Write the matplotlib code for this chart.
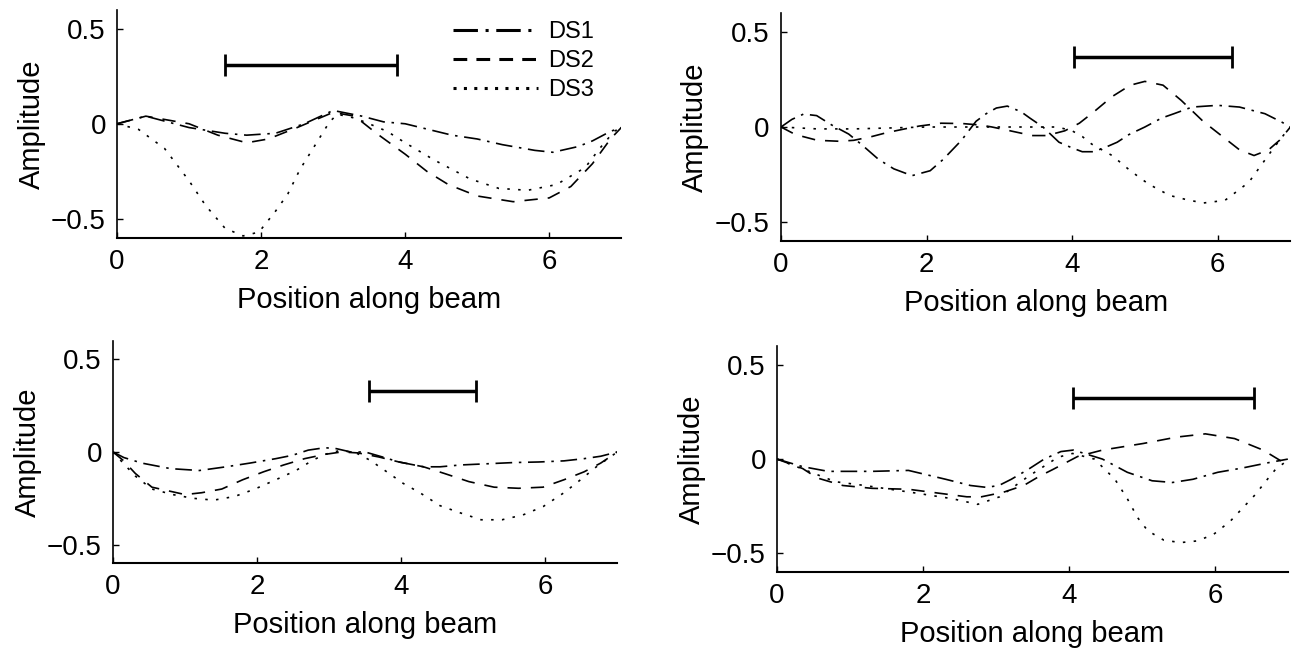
import numpy as np
import matplotlib
matplotlib.use("Agg")
import matplotlib.pyplot as plt

plt.rcParams['font.family'] = ['Liberation Sans', 'DejaVu Sans']

labels = ["DS1", "DS2", "DS3"]

# top left panel
tl_x1 = [0, 0.4, 1.0, 1.5, 1.8, 2.2, 2.6, 3.0, 3.4, 3.7, 4.0, 4.65, 5.0, 5.35, 5.8, 6.05, 6.4, 6.6, 6.85, 7.0]
tl_y1 = [0, 0.04, -0.02, -0.05, -0.06, -0.05, 0.0, 0.07, 0.04, 0.01, 0.0, -0.06, -0.08, -0.11, -0.14, -0.15, -0.12, -0.09, -0.04, -0.02]
tl_x2 = [0, 0.4, 1.0, 1.4, 1.8, 2.1, 2.5, 3.0, 3.3, 3.6, 4.0, 4.3, 4.6, 5.0, 5.5, 6.0, 6.3, 6.6, 6.85, 7.0]
tl_y2 = [0, 0.04, 0.0, -0.06, -0.10, -0.08, -0.02, 0.06, 0.04, -0.05, -0.16, -0.25, -0.32, -0.38, -0.41, -0.39, -0.33, -0.21, -0.08, -0.02]
tl_x3 = [0, 0.3, 0.66, 1.0, 1.23, 1.5, 1.75, 1.97, 2.2, 2.37, 2.54, 2.77, 2.95, 3.06, 3.3, 3.5, 3.75, 4.0, 4.4,
         4.9, 5.3, 5.7, 6.1, 6.5, 6.7, 6.9, 7.0]
tl_y3 = [0, -0.03, -0.13, -0.30, -0.43, -0.55, -0.59, -0.57, -0.46, -0.37, -0.24, -0.10, 0.01, 0.05, 0.03, 0.0, -0.04,
         -0.10, -0.19, -0.29, -0.34, -0.35, -0.32, -0.23, -0.13, -0.04, -0.02]

# top right panel
tr_x1 = [0, 0.15, 0.31, 0.49, 0.7, 0.93, 1.1, 1.34, 1.55, 1.8, 2.05, 2.23, 2.48, 2.68, 2.82, 2.96, 3.11, 3.3, 3.42,
         3.6, 3.82, 4.0, 4.14, 4.3, 4.5, 4.62, 4.78, 5.0, 5.23, 5.4, 5.65, 6.0, 6.3, 6.65, 6.88, 7.0]
tr_y1 = [0, 0.04, 0.068, 0.06, 0.01, -0.037, -0.09, -0.17, -0.22, -0.256, -0.23, -0.17, -0.07, 0.03, 0.07, 0.1,
         0.11, 0.08, 0.047, 0.0, -0.08, -0.11, -0.13, -0.13, -0.1, -0.08, -0.04, 0.0, 0.047, 0.07, 0.105, 0.114,
         0.105, 0.07, 0.026, 0.0]
tr_x2 = [0, 0.2, 0.5, 0.8, 1.0, 1.25, 1.45, 1.7, 1.9, 2.2, 2.5, 2.75, 2.9, 3.15, 3.45, 3.65, 3.9, 4.1, 4.3, 4.55,
         4.8, 5.0, 5.25, 5.5, 5.8, 6.1, 6.3, 6.5, 6.7, 6.85, 7.0]
tr_y2 = [0, -0.04, -0.07, -0.075, -0.07, -0.05, -0.03, -0.01, 0.005, 0.02, 0.018, 0.01, 0.0, -0.02, -0.045, -0.045,
         -0.02, 0.02, 0.08, 0.16, 0.22, 0.24, 0.22, 0.14, 0.03, -0.06, -0.12, -0.15, -0.12, -0.07, 0.0]
tr_x3 = [0, 0.5, 1.0, 2.0, 3.0, 3.8, 4.0, 4.14, 4.27, 4.55, 4.8, 5.05, 5.34, 5.55, 5.8, 6.1, 6.26, 6.43, 6.6, 6.77,
         6.94, 7.0]
tr_y3 = [0, -0.01, -0.01, 0.0, 0.0, 0.0, -0.02, -0.05, -0.09, -0.15, -0.23, -0.3, -0.36, -0.38, -0.4, -0.386, -0.34,
         -0.29, -0.2, -0.11, -0.026, 0]

# bottom left panel
bl_x1 = [0, 0.15, 0.4, 0.8, 1.2, 1.57, 1.9, 2.26, 2.49, 2.71, 2.94, 3.1, 3.3, 3.5, 3.74, 3.97, 4.31, 4.54, 4.83,
         5.23, 5.57, 5.91, 6.26, 6.54, 6.77, 7.0]
bl_y1 = [0, -0.03, -0.06, -0.09, -0.1, -0.08, -0.06, -0.036, -0.018, 0.01, 0.023, 0.018, 0.0, 0.0, -0.027, -0.054,
         -0.08, -0.08, -0.07, -0.063, -0.057, -0.054, -0.048, -0.036, -0.023, 0.0]
bl_x2 = [0, 0.14, 0.31, 0.54, 0.77, 1.0, 1.23, 1.51, 1.8, 2.09, 2.37, 2.66, 2.94, 3.17, 3.4, 3.69, 3.97, 4.31, 4.6,
         4.94, 5.29, 5.63, 5.97, 6.26, 6.54, 6.77, 7.0]
bl_y2 = [0, -0.045, -0.116, -0.19, -0.21, -0.23, -0.22, -0.2, -0.15, -0.107, -0.07, -0.036, -0.013, 0.0, -0.005,
         -0.027, -0.054, -0.08, -0.116, -0.16, -0.19, -0.196, -0.19, -0.15, -0.107, -0.06, 0.0]
bl_x3 = [0, 0.14, 0.31, 0.54, 0.83, 1.11, 1.4, 1.69, 1.97, 2.26, 2.54, 2.77, 2.94, 3.17, 3.4, 3.57, 3.8, 4.03, 4.26,
         4.54, 4.83, 5.11, 5.4, 5.69, 5.97, 6.26, 6.49, 6.71, 7.0]
bl_y3 = [0, -0.06, -0.13, -0.2, -0.23, -0.25, -0.26, -0.24, -0.2, -0.15, -0.1, -0.045, -0.013, 0.01, -0.01, -0.045,
         -0.107, -0.17, -0.22, -0.29, -0.33, -0.366, -0.366, -0.34, -0.295, -0.22, -0.15, -0.08, 0.0]

# bottom right panel
br_x1 = [0, 0.35, 0.7, 1.3, 1.8, 2.31, 2.65, 2.87, 3.04, 3.21, 3.44, 3.66, 3.89, 4.06, 4.46, 4.8, 5.14, 5.42, 5.7,
         6.04, 6.38, 6.72, 7.0]
br_y1 = [0, -0.04, -0.065, -0.065, -0.06, -0.107, -0.14, -0.15, -0.14, -0.107, -0.055, 0.0, 0.04, 0.048, 0.0,
         -0.07, -0.115, -0.124, -0.107, -0.07, -0.047, -0.02, 0.0]
br_x2 = [0, 0.35, 0.55, 0.9, 1.3, 1.8, 2.2, 2.6, 2.8, 3.1, 3.38, 3.6, 3.78, 4.12, 4.46, 5.02, 5.48, 5.87, 6.27,
         6.66, 6.95, 7.0]
br_y2 = [0, -0.05, -0.1, -0.14, -0.155, -0.16, -0.18, -0.2, -0.2, -0.176, -0.14, -0.09, -0.055, 0.014, 0.048,
         0.083, 0.117, 0.134, 0.109, 0.048, -0.02, -0.02]
br_x3 = [0, 0.4, 0.8, 1.2, 1.9, 2.4, 2.75, 3.05, 3.45, 3.85, 4.05, 4.35, 4.63, 4.8, 4.94, 5.08, 5.3, 5.53, 5.76,
         5.98, 6.21, 6.38, 6.55, 6.72, 6.83, 6.95, 7.0]
br_y3 = [0, -0.06, -0.12, -0.14, -0.18, -0.21, -0.24, -0.2, -0.09, 0.01, 0.03, 0.0, -0.107, -0.21, -0.31, -0.38,
         -0.43, -0.443, -0.434, -0.4, -0.33, -0.26, -0.19, -0.107, -0.055, -0.02, -0.01]

# horizontal bars (start, end, height)
bar_start = [1.5, 4.03, 3.55, 4.05]
bar_end = [3.88, 6.2, 5.04, 6.53]
bar_y = [0.31, 0.37, 0.33, 0.325]

panels = [
    ([tl_x1, tl_x2, tl_x3], [tl_y1, tl_y2, tl_y3]),
    ([tr_x1, tr_x2, tr_x3], [tr_y1, tr_y2, tr_y3]),
    ([bl_x1, bl_x2, bl_x3], [bl_y1, bl_y2, bl_y3]),
    ([br_x1, br_x2, br_x3], [br_y1, br_y2, br_y3]),
]
rects = [
    [0.0905, 0.633, 0.390, 0.352],
    [0.604, 0.628, 0.394, 0.352],
    [0.0874, 0.131, 0.390, 0.343],
    [0.601, 0.117, 0.395, 0.349],
]
dashes = [(10, 4, 1.5, 4), (8, 6), (1.5, 5)]
legend_dashes = [(8, 2.5, 1, 2.5), (4.5, 3), (1, 2.4)]

fig = plt.figure(figsize=(12.93, 6.48), dpi=100)

for i in range(4):
    ax = fig.add_axes(rects[i])
    xs, ys = panels[i]
    for k in range(3):
        ax.plot(xs[k], ys[k], color='black', lw=1.2, dashes=dashes[k], label=labels[k])
    xc = (bar_start[i] + bar_end[i]) / 2
    xh = (bar_end[i] - bar_start[i]) / 2
    ax.errorbar([xc], [bar_y[i]], xerr=[xh], fmt='none', ecolor='black',
                elinewidth=2.5, capsize=8, capthick=2)
    ax.set_xlim(0, 7)
    ax.set_ylim(-0.6, 0.6)
    ax.set_xticks([0, 2, 4, 6])
    ax.set_yticks([-0.5, 0, 0.5])
    ax.set_yticklabels(['\u22120.5', '0', '0.5'])
    ax.spines['top'].set_visible(False)
    ax.spines['right'].set_visible(False)
    ax.spines['left'].set_linewidth(1.2)
    ax.spines['bottom'].set_linewidth(1.5)
    ax.tick_params(direction='in', length=4, width=1, labelsize=20, pad=8)
    ax.set_xlabel('Position along beam', fontsize=21, labelpad=8)
    ax.set_ylabel('Amplitude', fontsize=21, labelpad=4)
    if i == 0:
        leg = ax.legend(loc='upper left', bbox_to_anchor=(0.667, 0.95), frameon=False,
                        fontsize=17, handlelength=3.6, handletextpad=0.4, labelspacing=0.3,
                        borderpad=0, borderaxespad=0)
        for ln, d in zip(leg.get_lines(), legend_dashes):
            ln.set_linewidth(2.2)
            ln.set_dashes(d)

plt.savefig('out.png', dpi=100)
plt.close()
